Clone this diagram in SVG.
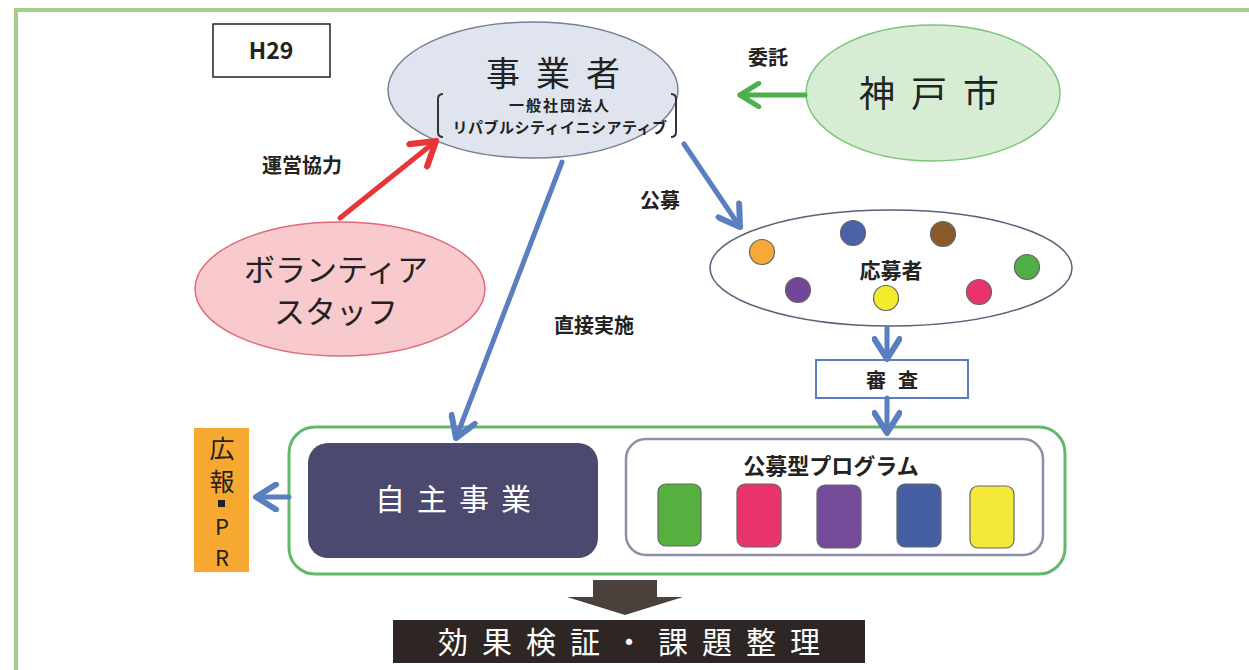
<svg xmlns="http://www.w3.org/2000/svg" width="1249" height="670" viewBox="0 0 1249 670">
<style>
.t{font-family:"Noto Sans CJK JP","Noto Sans",sans-serif;fill:#222}
.b{font-weight:bold}
.w{fill:#fff}
.conn{fill:none;stroke-width:5;stroke-linecap:round}
</style>
<defs>
<marker id="hb" viewBox="0 0 12 12" refX="10" refY="6" markerWidth="30" markerHeight="30" markerUnits="userSpaceOnUse" orient="auto">
<path d="M2,1 L10,6 L2,11" fill="none" stroke="#5a7fc0" stroke-width="2.4" stroke-linecap="round" stroke-linejoin="round"/>
</marker>
<marker id="hr" viewBox="0 0 12 12" refX="10" refY="6" markerWidth="34" markerHeight="34" markerUnits="userSpaceOnUse" orient="auto">
<path d="M2,1 L10,6 L2,11" fill="none" stroke="#e8353a" stroke-width="2.2" stroke-linecap="round" stroke-linejoin="round"/>
</marker>
<marker id="hg" viewBox="0 0 12 12" refX="10" refY="6" markerWidth="28" markerHeight="28" markerUnits="userSpaceOnUse" orient="auto">
<path d="M2,1 L10,6 L2,11" fill="none" stroke="#4db04a" stroke-width="2.2" stroke-linecap="round" stroke-linejoin="round"/>
</marker>
</defs>
<rect width="1249" height="670" fill="#fff"/>
<rect x="16" y="10" width="1260" height="700" fill="none" stroke="#a8cc8c" stroke-width="4"/>

<g id="h29">
<rect x="213" y="24" width="117" height="53" fill="#fff" stroke="#222" stroke-width="1.5"/>
<text x="271" y="59" class="t b" font-size="23" text-anchor="middle" font-family="'Open Sans','Liberation Sans',sans-serif">H29</text>
</g>

<g id="jigyosha">
<ellipse cx="533" cy="90" rx="145" ry="68" fill="#dfe4ef" stroke="#7a7f96" stroke-width="1.5"/>
<text x="561" y="86" class="t" font-size="34" text-anchor="middle" letter-spacing="16">事業者</text>
<text x="560" y="111" class="t b" font-size="15" text-anchor="middle" letter-spacing="2">一般社団法人</text>
<text x="560" y="133" class="t b" font-size="15" text-anchor="middle" letter-spacing="0.5">リパブルシティイニシアティブ</text>
<path d="M443,94 Q438,94 438,99 L438,132 Q438,137 443,137" fill="none" stroke="#333" stroke-width="2"/>
<path d="M671,94 Q676,94 676,99 L676,132 Q676,137 671,137" fill="none" stroke="#333" stroke-width="2"/>
</g>

<g id="kobe">
<ellipse cx="933" cy="93" rx="127" ry="68" fill="#d6ecd3" stroke="#7cc57a" stroke-width="1.5"/>
<text x="937" y="107" class="t" font-size="36" text-anchor="middle" letter-spacing="16">神戸市</text>
</g>

<g id="volunteer">
<ellipse cx="340" cy="289" rx="145" ry="67" fill="#f8c9cd" stroke="#e06a78" stroke-width="1.5"/>
<text x="336" y="281" class="t" font-size="31" text-anchor="middle">ボランティア</text>
<text x="336" y="323" class="t" font-size="31" text-anchor="middle">スタッフ</text>
</g>

<g id="oubosha">
<ellipse cx="891" cy="268" rx="181" ry="58" fill="#fff" stroke="#5a6178" stroke-width="1.5"/>
<text x="891" y="278" class="t b" font-size="21" text-anchor="middle">応募者</text>
<g stroke="#666" stroke-width="1.2">
<circle cx="762" cy="252" r="12.5" fill="#f6a936"/>
<circle cx="853" cy="233" r="12.5" fill="#4a62a8"/>
<circle cx="943" cy="234" r="12.5" fill="#8b5a2b"/>
<circle cx="1027" cy="267" r="12.5" fill="#4fae45"/>
<circle cx="798" cy="290" r="12.5" fill="#74469a"/>
<circle cx="886" cy="298" r="12.5" fill="#f4ea2e"/>
<circle cx="979" cy="292" r="12.5" fill="#e8336b"/>
</g>
</g>

<g id="shinsa">
<rect x="816" y="360" width="152" height="38" fill="#fff" stroke="#5a7bbd" stroke-width="2"/>
<text x="898" y="388" class="t b" font-size="20" text-anchor="middle" letter-spacing="12">審査</text>
</g>

<g id="container">
<rect x="289" y="427" width="776" height="147" rx="26" fill="#fff" stroke="#62b868" stroke-width="3"/>
</g>

<g id="jishu">
<rect x="308" y="443" width="290" height="115" rx="20" fill="#4b4a6e"/>
<text x="459" y="510" class="t w" font-size="30" text-anchor="middle" letter-spacing="12">自主事業</text>
</g>

<g id="koubo">
<rect x="626" y="439" width="417" height="116" rx="20" fill="#fff" stroke="#8b8fa8" stroke-width="2.5"/>
<text x="831" y="474" class="t b" font-size="22" text-anchor="middle">公募型プログラム</text>
<g stroke="#666" stroke-width="1.2">
<rect x="658" y="484" width="43" height="62" rx="8" fill="#56b040"/>
<rect x="737" y="484" width="44" height="63" rx="8" fill="#e9346b"/>
<rect x="817" y="485" width="44" height="63" rx="8" fill="#744b98"/>
<rect x="897" y="484" width="44" height="63" rx="8" fill="#455ea3"/>
<rect x="970" y="486" width="44" height="62" rx="8" fill="#f4e93a"/>
</g>
</g>

<g id="kouhou">
<rect x="194" y="428" width="55" height="144" fill="#f7a830"/>
<text x="222" y="458" class="t" font-size="25" text-anchor="middle">広</text>
<text x="222" y="491" class="t" font-size="25" text-anchor="middle">報</text>
<rect x="218" y="500" width="7" height="7" fill="#222"/>
<text x="222" y="535" class="t" font-size="22" text-anchor="middle" font-family="'Liberation Sans',sans-serif">P</text>
<text x="222" y="566" class="t" font-size="22" text-anchor="middle" font-family="'Liberation Sans',sans-serif">R</text>
</g>

<g id="kekka">
<path d="M593,580 L657,580 L657,597 L683,597 L625,615 L567,597 L593,597 Z" fill="#4a403c"/>
<rect x="393" y="620" width="472" height="43" fill="#2e2624"/>
<text x="636" y="653" class="t w" font-size="30" text-anchor="middle" letter-spacing="14">効果検証・課題整理</text>
</g>

<g id="connectors">
<line x1="805" y1="95" x2="740" y2="95" class="conn" stroke="#4db04a" marker-end="url(#hg)"/>
<line x1="340" y1="218" x2="436" y2="141" class="conn" stroke="#e8353a" stroke-width="6" marker-end="url(#hr)"/>
<line x1="684" y1="144" x2="740" y2="227" class="conn" stroke="#5a7fc0" marker-end="url(#hb)"/>
<line x1="562" y1="162" x2="456" y2="438" class="conn" stroke="#5a7fc0" marker-end="url(#hb)"/>
<line x1="887" y1="328" x2="887" y2="359" class="conn" stroke="#5a7fc0" marker-end="url(#hb)"/>
<line x1="887" y1="398" x2="887" y2="433" class="conn" stroke="#5a7fc0" marker-end="url(#hb)"/>
<line x1="289" y1="497" x2="256" y2="497" class="conn" stroke="#5a7fc0" marker-end="url(#hb)"/>
<text x="768" y="65" class="t b" font-size="20" text-anchor="middle">委託</text>
<text x="302" y="173" class="t b" font-size="20" text-anchor="middle">運営協力</text>
<text x="660" y="208" class="t b" font-size="20" text-anchor="middle">公募</text>
<text x="594" y="333" class="t b" font-size="20" text-anchor="middle">直接実施</text>
</g>
</svg>
